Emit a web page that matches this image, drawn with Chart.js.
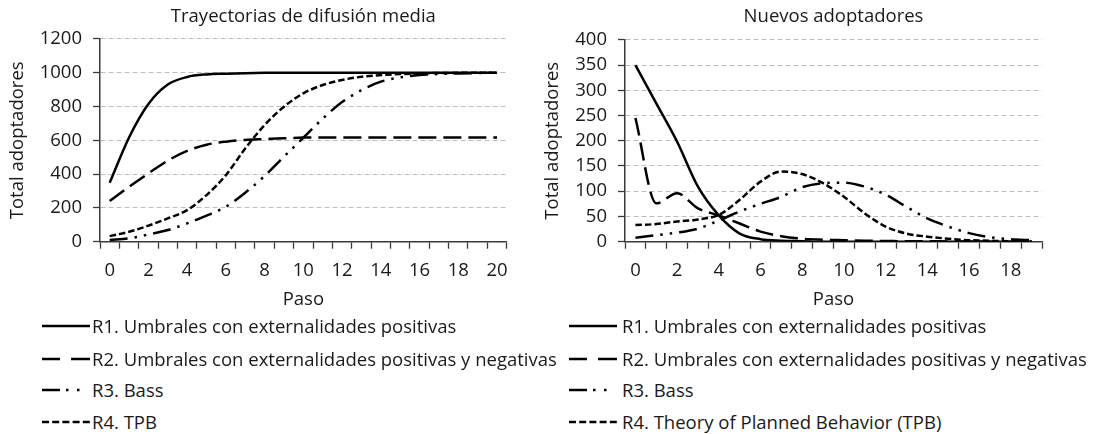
<!DOCTYPE html>
<html>
<head>
<meta charset="utf-8">
<script src="https://cdn.jsdelivr.net/npm/chart.js@4.4.1/dist/chart.umd.min.js"></script>
<style>
  html, body { margin: 0; padding: 0; background: #fff; }
  body { width: 1097px; height: 434px; position: relative; overflow: hidden;
         font-family: "Open Sans", sans-serif; color: #1a1a1a; }
  .wrap { position: absolute; top: 0; }
  #w1 { left: 0; width: 540px; height: 315px; }
  #w2 { left: 535px; width: 562px; height: 315px; }
  .lg { position: absolute; font-size: 18.5px; line-height: 22px; white-space: nowrap; }
  .lg svg { position: absolute; top: 7px; }
</style>
</head>
<body>
<div class="wrap" id="w1"><canvas id="c1" width="540" height="315"></canvas></div>
<div class="wrap" id="w2"><canvas id="c2" width="562" height="315"></canvas></div>
<div id="legends"></div>
<script>
// ---------- data ----------
const stepsLeft  = ['0','1','2','3','4','5','6','7','8','9','10','11','12','13','14','15','16','17','18','19','20'];
const stepsRight = ['0','1','2','3','4','5','6','7','8','9','10','11','12','13','14','15','16','17','18','19'];

const titleLeft  = 'Trayectorias de difusión media';
const titleRight = 'Nuevos adoptadores';
const yTitle = 'Total adoptadores';
const xTitle = 'Paso';

const namesLeft  = ['R1. Umbrales con externalidades positivas',
                    'R2. Umbrales con externalidades positivas y negativas',
                    'R3. Bass',
                    'R4. TPB'];
const namesRight = ['R1. Umbrales con externalidades positivas',
                    'R2. Umbrales con externalidades positivas y negativas',
                    'R3. Bass',
                    'R4. Theory of Planned Behavior (TPB)'];

// cumulative adopters (left)
const r1Total = [349, 617, 815, 930, 975, 990, 994, 997, 999, 1000, 1000, 1000, 1000, 1000, 1000, 1000, 1000, 1000, 1000, 1000, 1000];
const r2Total = [241, 325, 404, 480, 537, 574, 592, 602, 607, 612, 616, 617, 617, 617, 617, 617, 617, 617, 617, 617, 617];
const r3Total = [10, 20, 43, 69, 108, 154, 207, 290, 389, 503, 615, 728, 826, 897, 947, 972, 986, 992, 996, 998, 1000];
const r4Total = [33, 59, 95, 138, 187, 276, 394, 552, 690, 799, 878, 927, 957, 976, 986, 992, 996, 998, 999, 1000, 1000];

// new adopters (right)
const r1New = [350, 274, 198, 109, 52, 16, 5, 2, 1, 0, 0, 0, 0, 0, 0, 0, 0, 0, 0, 0];
const r2New = [245, 76, 96, 66, 52, 36, 20, 11, 6, 4, 3, 2, 1.5, 1, 1, 0.5, 0.5, 0, 0, 0];
const r3New = [8, 13, 18, 26, 42, 60, 75, 89, 108, 116, 117, 109, 93, 69, 46, 30, 17, 9, 5, 3];
const r4New = [33, 35, 40, 44, 53, 83, 119, 139, 134, 116, 89, 56, 30, 16, 10, 6, 3, 2, 1, 1];

const yTicksLeft  = { max: 1200, step: 200 };
const yTicksRight = { max: 400, step: 50 };

// ---------- styles ----------
const FONT = '"Open Sans", sans-serif';
const FSIZE = 18.5;
const TXT = '#1a1a1a';
const AX = '#3a3a3a';
const dashes = [[], [18, 7], [18, 7, 2.5, 7, 2.5, 7], [6.5, 3]];
const legendDashes = [[], [18, 11, 20], [18, 6, 2.5, 8.5, 2.5, 20], [7, 3.2]];

function datasets(names, arrays) {
  return arrays.map((d, k) => ({
    label: names[k],
    data: d,
    borderColor: '#000',
    backgroundColor: '#000',
    borderWidth: 2.5,
    borderDash: dashes[k],
    borderCapStyle: 'butt',
    pointRadius: 0,
    fill: false,
    cubicInterpolationMode: 'monotone'
  }));
}

function options(cfg) {
  const f = { family: FONT, size: FSIZE, weight: 'normal' };
  return {
    responsive: false,
    animation: false,
    layout: { padding: { left: 0, right: cfg.padRight, top: 0, bottom: 0 } },
    plugins: {
      legend: { display: false },
      tooltip: { enabled: false },
      title: { display: true, text: cfg.title, fullSize: false, color: TXT, font: f,
               padding: { top: 5.9, bottom: cfg.titleBottom } }
    },
    scales: {
      x: {
        type: 'category',
        offset: true,
        grid: { offset: true, drawOnChartArea: false, drawTicks: true, tickLength: 7,
                tickColor: AX, tickWidth: 1.3, color: AX },
        border: { display: true, color: AX, width: 1.5 },
        ticks: { autoSkip: false, maxRotation: 0, minRotation: 0, padding: 11.2, color: TXT, font: f,
                 callback: (v, i) => (i % 2 === 0 ? cfg.labels[i] : '') },
        title: { display: true, text: xTitle, color: TXT, font: f, padding: { top: 0, bottom: 3.9 } },
        afterFit: (s) => { s.height = cfg.xHeight; }
      },
      y: {
        min: 0, max: cfg.max,
        ticks: { stepSize: cfg.step, padding: 11, color: TXT, font: f,
                 callback: (v) => String(v) },
        grid: { color: '#bdbdbd', lineWidth: 1, drawTicks: true, tickLength: 7,
                tickColor: AX, tickWidth: 1.3, tickBorderDash: [] },
        border: { display: true, color: AX, width: 1.5, dash: [5, 3] },
        title: { display: true, text: yTitle, color: TXT, font: f, padding: { top: 6.9, bottom: 0 } },
        afterFit: (s) => { s.width = cfg.yWidth; }
      }
    }
  };
}

new Chart(document.getElementById('c1'), {
  type: 'line',
  data: { labels: stepsLeft, datasets: datasets(namesLeft, [r1Total, r2Total, r3Total, r4Total]) },
  options: options({ title: titleLeft, labels: stepsLeft, max: yTicksLeft.max, step: yTicksLeft.step,
                     padRight: 33.3, titleBottom: 10.8, xHeight: 73.3, yWidth: 100 })
});

new Chart(document.getElementById('c2'), {
  type: 'line',
  data: { labels: stepsRight, datasets: datasets(namesRight, [r1New, r2New, r3New, r4New]) },
  options: options({ title: titleRight, labels: stepsRight, max: yTicksRight.max, step: yTicksRight.step,
                     padRight: 55, titleBottom: 11.7, xHeight: 73.3, yWidth: 90 })
});

// ---------- legends (HTML) ----------
const rowCenters = [326, 358.5, 390, 421.5];
function buildLegend(names, lineX, textX) {
  const host = document.getElementById('legends');
  names.forEach((name, k) => {
    const d = document.createElement('div');
    d.className = 'lg';
    d.style.left = lineX + 'px';
    d.style.top = (rowCenters[k] - 11) + 'px';
    d.style.paddingLeft = (textX - lineX) + 'px';
    const svgNS = 'http://www.w3.org/2000/svg';
    const svg = document.createElementNS(svgNS, 'svg');
    svg.setAttribute('width', '49'); svg.setAttribute('height', '8');
    svg.style.left = '0px';
    const ln = document.createElementNS(svgNS, 'line');
    ln.setAttribute('x1', '0'); ln.setAttribute('y1', '4');
    ln.setAttribute('x2', '48'); ln.setAttribute('y2', '4');
    ln.setAttribute('stroke', '#000'); ln.setAttribute('stroke-width', '2.5');
    if (legendDashes[k].length) ln.setAttribute('stroke-dasharray', legendDashes[k].join(','));
    svg.appendChild(ln);
    d.appendChild(svg);
    d.appendChild(document.createTextNode(name));
    host.appendChild(d);
  });
}
buildLegend(namesLeft, 42, 92);
buildLegend(namesRight, 569, 622);
</script>
</body>
</html>
